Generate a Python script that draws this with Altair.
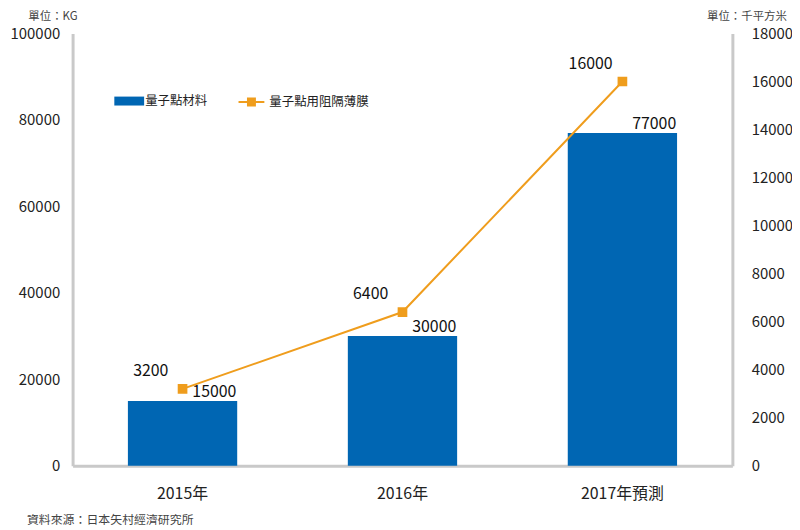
import altair as alt
import pandas as pd

FONT = "Noto Sans CJK TC"
BLUE = "#0066b3"
ORANGE = "#ef9d1d"
AXIS_GREY = "#c9c9c9"

years = ["2015年", "2016年", "2017年預測"]
material_kg = [15000, 30000, 77000]
film_k_m2 = [3200, 6400, 16000]

bar_name = "量子點材料"
line_name = "量子點用阻隔薄膜"

df = pd.DataFrame(
    {
        "year": years,
        "material": material_kg,
        "film": film_k_m2,
        "bar_series": bar_name,
        "line_series": line_name,
    }
)

unit_title = dict(
    titleAngle=0,
    titleY=-23,
    titleAlign="left",
    titleBaseline="top",
    titleFontSize=11.5,
    titleFontWeight="normal",
    titleColor="#444",
)

x = alt.X(
    "year:N",
    sort=years,
    title=None,
    scale=alt.Scale(paddingInner=0.5, paddingOuter=0.25),
    axis=alt.Axis(
        labelAngle=0,
        labelFontSize=16,
        labelPadding=20,
        labelColor="#222",
        ticks=False,
        domainColor=AXIS_GREY,
        domainWidth=3,
    ),
)

y_left = alt.Y(
    "material:Q",
    scale=alt.Scale(domain=[0, 100000]),
    axis=alt.Axis(
        values=[0, 20000, 40000, 60000, 80000, 100000],
        format="d",
        grid=False,
        ticks=False,
        labelFontSize=15,
        labelPadding=13,
        labelColor="#222",
        domainColor=AXIS_GREY,
        domainWidth=3,
        title="單位：KG",
        titleX=-45,
        **unit_title,
    ),
)

y_right = alt.Y(
    "film:Q",
    scale=alt.Scale(domain=[0, 18000]),
    axis=alt.Axis(
        orient="right",
        values=list(range(0, 18001, 2000)),
        format="d",
        grid=False,
        ticks=False,
        labelFontSize=15,
        labelPadding=19,
        labelColor="#222",
        domainColor=AXIS_GREY,
        domainWidth=3,
        title="單位：千平方米",
        titleX=-26,
        **unit_title,
    ),
)

bar_base = alt.Chart(df).encode(x=x, y=y_left)

bars = bar_base.mark_bar(size=110).encode(
    fill=alt.Fill(
        "bar_series:N",
        scale=alt.Scale(domain=[bar_name], range=[BLUE]),
        legend=alt.Legend(
            title=None,
            orient="none",
            legendX=47,
            legendY=58,
            symbolType="M-1.5,-0.45L1.5,-0.45L1.5,0.45L-1.5,0.45Z",
            symbolSize=400,
            symbolStrokeWidth=0,
            labelOffset=6,
            labelFontSize=12.5,
            labelFont=FONT,
            labelColor="#222",
        ),
    )
)
bar_labels = bar_base.mark_text(
    font=FONT, fontSize=16, color="#111", baseline="bottom", dx=32, dy=-1
).encode(text="material:Q")

line_base = alt.Chart(df).encode(x=x, y=y_right)

line = line_base.mark_line(
    strokeWidth=2,
    point=alt.OverlayMarkDef(shape="square", size=60, filled=True, color=ORANGE),
).encode(
    stroke=alt.Stroke(
        "line_series:N",
        scale=alt.Scale(domain=[line_name], range=[ORANGE]),
        legend=alt.Legend(
            title=None,
            orient="none",
            legendX=169,
            legendY=58,
            symbolType="M-1.3,0L1.3,0M-0.35,-0.35L0.35,-0.35L0.35,0.35L-0.35,0.35Z",
            symbolSize=400,
            symbolFillColor=ORANGE,
            symbolStrokeWidth=2,
            labelOffset=7,
            labelFontSize=12.5,
            labelFont=FONT,
            labelColor="#222",
        ),
    )
)
line_labels = line_base.mark_text(
    font=FONT, fontSize=16, color="#111", baseline="middle", dx=-32, dy=-18
).encode(text="film:Q")

chart = (
    alt.layer(bars + bar_labels, line + line_labels)
    .resolve_scale(y="independent", fill="independent", stroke="independent")
    .properties(
        width=664,
        height=435,
        autosize=alt.AutoSizeParams(type="none"),
        padding={"left": 65, "top": 24, "right": 60, "bottom": 60},
        title=alt.TitleParams(
            "資料來源：日本矢村經濟研究所",
            orient="bottom",
            anchor="start",
            frame="group",
            dx=-46,
            offset=14,
            fontSize=12,
            fontWeight="normal",
            font=FONT,
            color="#444",
        ),
    )
    .configure(font=FONT)
    .configure_view(stroke=None)
    .configure_axis(labelFont=FONT, titleFont=FONT)
)

chart.save("out.html", embed_options={"renderer": "svg", "actions": False})
